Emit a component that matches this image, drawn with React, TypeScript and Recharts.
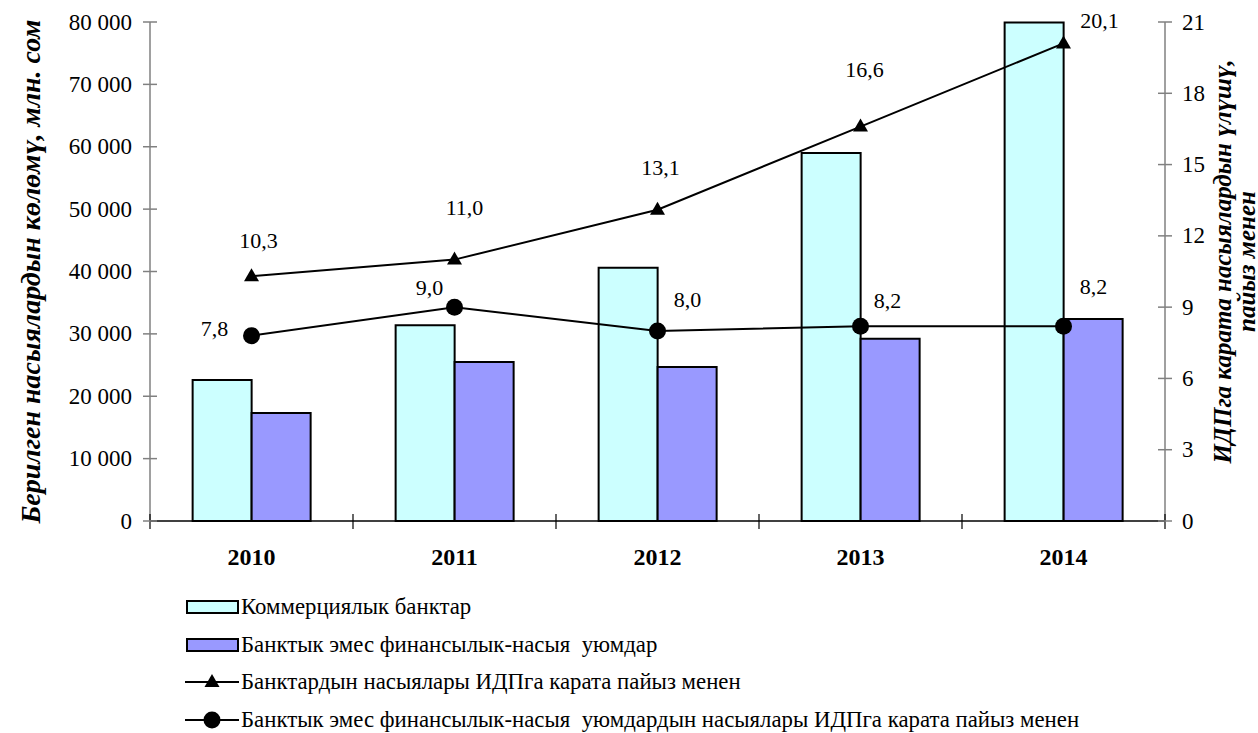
import { Bar, ComposedChart, LabelList, Line, XAxis, YAxis } from "recharts"

const years = ["2010", "2011", "2012", "2013", "2014"]
const bankLoans = [22600, 31400, 40600, 59000, 79900]
const nbfiLoans = [17300, 25500, 24700, 29200, 32400]
const bankShare = [10.3, 11.0, 13.1, 16.6, 20.1]
const nbfiShare = [7.8, 9.0, 8.0, 8.2, 8.2]
const leftTicks = [0, 10000, 20000, 30000, 40000, 50000, 60000, 70000, 80000]
const rightTicks = [0, 3, 6, 9, 12, 15, 18, 21]

const seriesNames = [
  "Коммерциялык банктар",
  "Банктык эмес финансылык-насыя  уюмдар",
  "Банктардын насыялары ИДПга карата пайыз менен",
  "Банктык эмес финансылык-насыя  уюмдардын насыялары ИДПга карата пайыз менен",
]

// where each value label sits relative to its point (the source placed them by hand)
const bankLabelShift = [[7, -36], [10, -52], [3, -42], [4, -57], [36, -23]]
const nbfiLabelShift = [[-37, -7], [-25, -20], [30, -31], [27, -26], [30, -40]]

const data = years.map((year, i) => ({
  year,
  bank: bankLoans[i],
  nbfi: nbfiLoans[i],
  bankShare: bankShare[i],
  nbfiShare: nbfiShare[i],
}))

const FONT = '"Liberation Serif"'
const W = 1258
const H = 590
const LEFT_W = 150
const RIGHT_W = 93
const X_H = 69
const PLOT_W = W - LEFT_W - RIGHT_W
const AXIS_GREY = "#808080"

const fmtThousands = (v: number) => String(v).replace(/\B(?=(\d{3})+(?!\d))/g, " ")
const fmtComma = (v: number) => v.toFixed(1).replace(".", ",")

const LeftTick = ({ x, y, payload }: any) => {
  const ax = x + 18
  return (
    <g>
      <line x1={ax - 7} x2={ax + 7} y1={y} y2={y} stroke={AXIS_GREY} strokeWidth={1.5} />
      <text x={x} y={y} textAnchor="end" dominantBaseline="central" style={{ fontFamily: FONT }} fontSize={23} fill="#000">
        {fmtThousands(payload.value)}
      </text>
    </g>
  )
}

const RightTick = ({ x, y, payload }: any) => {
  const ax = x - 17
  return (
    <g>
      <line x1={ax - 7} x2={ax + 7} y1={y} y2={y} stroke={AXIS_GREY} strokeWidth={1.5} />
      <text x={x} y={y} textAnchor="start" dominantBaseline="central" style={{ fontFamily: FONT }} fontSize={23} fill="#000">
        {payload.value}
      </text>
    </g>
  )
}

const YearTick = ({ x, y, payload, index }: any) => {
  const band = PLOT_W / years.length
  return (
    <g>
      <line x1={x - band / 2} x2={x - band / 2} y1={y - 7} y2={y + 8} stroke="#000" strokeWidth={1.2} />
      {index === years.length - 1 && (
        <line x1={x + band / 2} x2={x + band / 2} y1={y - 7} y2={y + 8} stroke="#000" strokeWidth={1.2} />
      )}
      <text x={x} y={y + 44} textAnchor="middle" style={{ fontFamily: FONT }} fontSize={24} fontWeight="bold" fill="#000">
        {payload.value}
      </text>
    </g>
  )
}

const Triangle = ({ cx, cy }: any) => (
  <polygon points={`${cx},${cy - 8} ${cx - 7.5},${cy + 5} ${cx + 7.5},${cy + 5}`} fill="#000" />
)

const Dot = ({ cx, cy }: any) => <circle cx={cx} cy={cy} r={8.5} fill="#000" />

const shiftedLabel = (shifts: number[][]) => (props: any) => {
  const { x, y, value, index } = props
  const [dx, dy] = shifts[index] || [0, -20]
  return (
    <text x={x + dx} y={y + dy} textAnchor="middle" dominantBaseline="central" style={{ fontFamily: FONT }} fontSize={22} fill="#000">
      {fmtComma(Number(value))}
    </text>
  )
}

const LeftTitle = ({ viewBox }: any) => {
  const cx = viewBox.x + 30
  const cy = viewBox.y + viewBox.height / 2
  return (
    <text x={cx} y={cy} transform={`rotate(-90, ${cx}, ${cy})`} textAnchor="middle" dominantBaseline="central"
      style={{ fontFamily: FONT }} fontSize={28} fontWeight="bold" fontStyle="italic" fill="#000">
      Берилген насыялардын көлөмү, млн. сом
    </text>
  )
}

const RightTitle = ({ viewBox }: any) => {
  const cy = viewBox.y + viewBox.height / 2 - 10
  const x1 = viewBox.x + 57
  const x2 = viewBox.x + 81
  return (
    <g style={{ fontFamily: FONT }} fontSize={25} fontWeight="bold" fontStyle="italic" fill="#000">
      <text x={x1} y={cy} transform={`rotate(-90, ${x1}, ${cy})`} textAnchor="middle" dominantBaseline="central">
        ИДПга карата насыялардын үлүшү,
      </text>
      <text x={x2} y={cy} transform={`rotate(-90, ${x2}, ${cy})`} textAnchor="middle" dominantBaseline="central">
        пайыз менен
      </text>
    </g>
  )
}

const legendSwatches = [
  <rect x={2} y={4} width={51} height={12} fill="#CCFFFF" stroke="#000" strokeWidth={2} />,
  <rect x={2} y={4} width={51} height={12} fill="#9999FF" stroke="#000" strokeWidth={2} />,
  <g>
    <line x1={0} x2={54} y1={10} y2={10} stroke="#000" strokeWidth={2} />
    <Triangle cx={27} cy={10} />
  </g>,
  <g>
    <line x1={0} x2={54} y1={10} y2={10} stroke="#000" strokeWidth={2} />
    <Dot cx={27} cy={10} />
  </g>,
]

export default function App() {
  return (
    <div style={{ position: "absolute", left: 0, top: 0, width: W, height: 733, background: "#fff" }}>
      <ComposedChart width={W} height={H} data={data} margin={{ top: 22, right: 0, bottom: 0, left: 0 }}
        barCategoryGap="21%" barGap={0}>
        <XAxis dataKey="year" height={X_H} tickLine={false} tickSize={0} tickMargin={0} interval={0}
          axisLine={{ stroke: "#000", strokeWidth: 1.5 }} tick={<YearTick />} />
        <YAxis yAxisId="left" width={LEFT_W} domain={[0, 80000]} ticks={leftTicks} interval={0}
          tickLine={false} tickSize={0} tickMargin={18} axisLine={{ stroke: AXIS_GREY, strokeWidth: 1.5 }}
          tick={<LeftTick />} label={<LeftTitle />} />
        <YAxis yAxisId="right" orientation="right" width={RIGHT_W} domain={[0, 21]} ticks={rightTicks} interval={0}
          tickLine={false} tickSize={0} tickMargin={17} axisLine={{ stroke: AXIS_GREY, strokeWidth: 1.5 }}
          tick={<RightTick />} label={<RightTitle />} />
        <Bar yAxisId="left" dataKey="bank" name={seriesNames[0]} fill="#CCFFFF" stroke="#000" strokeWidth={2}
          isAnimationActive={false} />
        <Bar yAxisId="left" dataKey="nbfi" name={seriesNames[1]} fill="#9999FF" stroke="#000" strokeWidth={2}
          isAnimationActive={false} />
        <Line yAxisId="right" dataKey="bankShare" name={seriesNames[2]} stroke="#000" strokeWidth={2}
          dot={(p: any) => <Triangle key={`t${p.index}`} {...p} />} activeDot={false} isAnimationActive={false}>
          <LabelList dataKey="bankShare" content={shiftedLabel(bankLabelShift)} />
        </Line>
        <Line yAxisId="right" dataKey="nbfiShare" name={seriesNames[3]} stroke="#000" strokeWidth={2}
          dot={(p: any) => <Dot key={`c${p.index}`} {...p} />} activeDot={false} isAnimationActive={false}>
          <LabelList dataKey="nbfiShare" content={shiftedLabel(nbfiLabelShift)} />
        </Line>
      </ComposedChart>
      <div style={{ position: "absolute", left: 185, top: 588, fontFamily: FONT, fontSize: 22.8, color: "#000" }}>
        {seriesNames.map((name, i) => (
          <div key={name} style={{ height: 37.7, display: "flex", alignItems: "center", whiteSpace: "pre" }}>
            <svg width={56} height={20} style={{ display: "block" }}>{legendSwatches[i]}</svg>
            <span>{name}</span>
          </div>
        ))}
      </div>
    </div>
  )
}
